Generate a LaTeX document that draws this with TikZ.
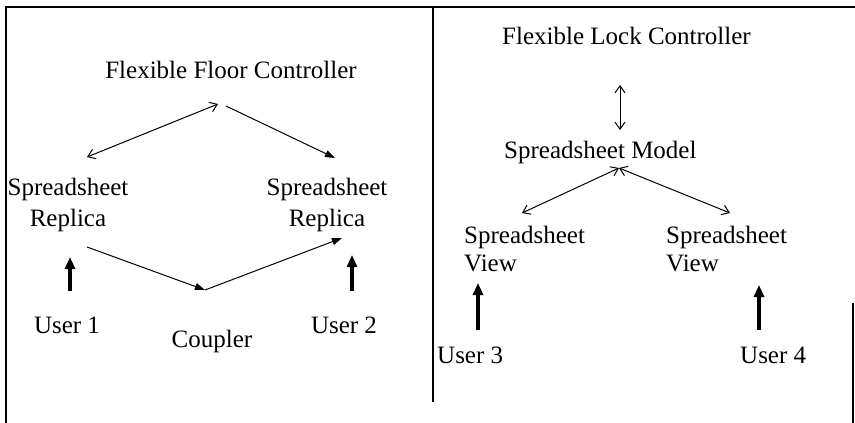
\documentclass[tikz,border=0pt]{standalone}
\usepackage{fontspec}
\setmainfont{Liberation Serif}
\usetikzlibrary{arrows.meta}
\begin{document}
\begin{tikzpicture}[x=1pt,y=-1pt,
  lbl/.style={inner sep=0pt, font=\fontsize{25}{30}\selectfont},
  frame/.style={line width=2.2pt},
  dbl/.style={line width=1pt, {Straight Barb[length=7pt,width=10pt]}-{Straight Barb[length=7pt,width=10pt]}},
  sgl/.style={line width=1pt, -{Triangle[length=10pt,width=7pt]}},
  user/.style={line width=4pt, -{Triangle[length=12pt,width=10pt]}}]
\useasboundingbox (0,0) rectangle (855,423);
% frame
\draw[frame] (855,7) -- (6,7) -- (6,423);
\draw[frame] (433,7) -- (433,402);
\draw[frame] (853,303) -- (853,423);
% left panel
\node[lbl, anchor=base] (ffc) at (231,78) {Flexible Floor Controller};
\node[lbl, anchor=base] (srL) at (68,195) {\vtop{\baselineskip=31pt\halign{\hfil#\hfil\cr Spreadsheet\cr Replica\cr}}};
\node[lbl, anchor=base] (srR) at (327,195) {\vtop{\baselineskip=31pt\halign{\hfil#\hfil\cr Spreadsheet\cr Replica\cr}}};
\node[lbl, anchor=base] (u1) at (67,333) {User 1};
\node[lbl, anchor=base] (cp) at (212,347) {Coupler};
\node[lbl, anchor=base] (u2) at (344,333) {User 2};
\coordinate (ffcL) at (218,104);
\coordinate (ffcR) at (226,106);
\coordinate (srLt) at (87,157);
\coordinate (srRt) at (335,158);
\coordinate (srLb) at (87,247);
\coordinate (cpT) at (205,290);
\coordinate (srRb) at (342,238);
\coordinate (u1a) at (70,291);
\coordinate (u1b) at (70,257);
\coordinate (u2a) at (352,291);
\coordinate (u2b) at (352,255);
\draw[dbl] (srLt) -- (ffcL);
\draw[sgl] (ffcR) -- (srRt);
\draw[sgl] (srLb) -- (cpT);
\draw[sgl] (cpT) -- (srRb);
\draw[user] (u1a) -- (u1b);
\draw[user] (u2a) -- (u2b);
% right panel
\node[lbl, anchor=base west] (flc) at (502,45) {Flexible Lock Controller};
\node[lbl, anchor=base west] (sm) at (504,158) {Spreadsheet Model};
\node[lbl, anchor=base west] (svL) at (464,243) {\vtop{\baselineskip=28pt\hbox{Spreadsheet}\hbox{View}}};
\node[lbl, anchor=base west] (svR) at (666,243) {\vtop{\baselineskip=28pt\hbox{Spreadsheet}\hbox{View}}};
\node[lbl, anchor=base west] (u3) at (437,363) {User 3};
\node[lbl, anchor=base west] (u4) at (740,363) {User 4};
\coordinate (flcB) at (620,85);
\coordinate (smT) at (620,130);
\coordinate (smB) at (619,168);
\coordinate (svLt) at (522,213);
\coordinate (svRt) at (730,213);
\coordinate (u3a) at (478,330);
\coordinate (u3b) at (478,283);
\coordinate (u4a) at (759,330);
\coordinate (u4b) at (759,285);
\draw[dbl] (flcB) -- (smT);
\draw[dbl] (smB) -- (svLt);
\draw[dbl] (smB) -- (svRt);
\draw[user] (u3a) -- (u3b);
\draw[user] (u4a) -- (u4b);
\end{tikzpicture}
\end{document}
